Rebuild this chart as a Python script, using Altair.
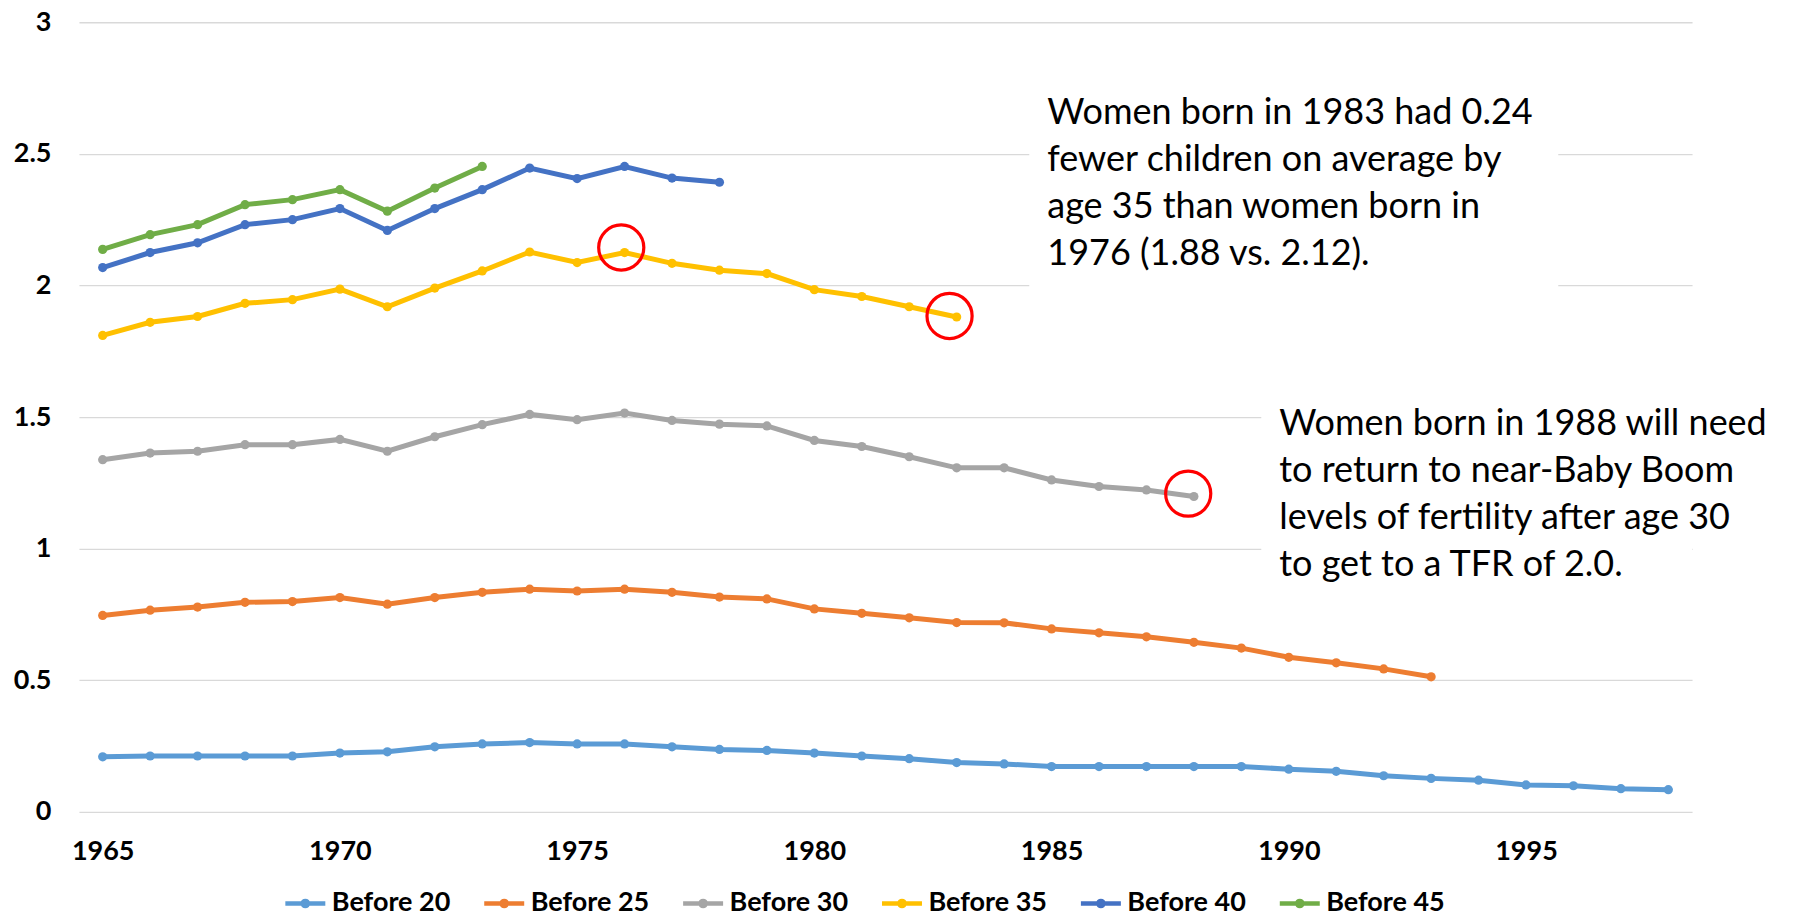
import altair as alt
import pandas as pd

# ---------------- data ----------------
years = list(range(1965, 1999))
series_names = ["Before 20", "Before 25", "Before 30", "Before 35", "Before 40", "Before 45"]
series_colors = ["#5B9BD5", "#ED7D31", "#A5A5A5", "#FFC000", "#4472C4", "#70AD47"]

before_20 = [0.209, 0.212, 0.212, 0.212, 0.212, 0.223, 0.228, 0.247, 0.258, 0.263,
             0.258, 0.258, 0.247, 0.237, 0.233, 0.223, 0.212, 0.202, 0.187, 0.182,
             0.172, 0.172, 0.172, 0.172, 0.172, 0.162, 0.154, 0.137, 0.127, 0.120,
             0.102, 0.099, 0.088, 0.084]
before_25 = [0.746, 0.766, 0.778, 0.796, 0.799, 0.814, 0.789, 0.814, 0.834, 0.846,
             0.839, 0.846, 0.834, 0.816, 0.809, 0.771, 0.754, 0.737, 0.719, 0.718,
             0.695, 0.680, 0.665, 0.644, 0.622, 0.587, 0.566, 0.543, 0.513]
before_30 = [1.338, 1.363, 1.370, 1.395, 1.395, 1.415, 1.370, 1.425, 1.471, 1.510,
             1.490, 1.515, 1.487, 1.473, 1.466, 1.411, 1.388, 1.349, 1.307, 1.307,
             1.261, 1.236, 1.223, 1.198]
before_35 = [1.810, 1.860, 1.882, 1.932, 1.946, 1.986, 1.919, 1.990, 2.055, 2.127,
             2.087, 2.125, 2.084, 2.058, 2.045, 1.984, 1.958, 1.919, 1.880]
before_40 = [2.068, 2.125, 2.162, 2.231, 2.250, 2.292, 2.209, 2.292, 2.364, 2.446,
             2.406, 2.452, 2.408, 2.392]
before_45 = [2.137, 2.193, 2.231, 2.307, 2.326, 2.364, 2.282, 2.370, 2.452]

all_series = [before_20, before_25, before_30, before_35, before_40, before_45]

x_ticks = [1965, 1970, 1975, 1980, 1985, 1990, 1995]
y_ticks = [0, 0.5, 1, 1.5, 2, 2.5, 3]

# highlighted cohorts (red circles)
circle_year = [1975.93, 1982.85, 1987.88]
circle_value = [2.144, 1.884, 1.209]

# annotation texts
note_lines = [
    ["Women born in 1983 had 0.24", "fewer children on average by",
     "age 35 than women born in", "1976 (1.88 vs. 2.12)."],
    ["Women born in 1988 will need", "to return to near-Baby Boom",
     "levels of fertility after age 30", "to get to a TFR of 2.0."],
]
note_year = [1984.91, 1989.80]
note_value = [2.612, 1.430]
# white backgrounds of the text boxes (hide gridlines)
box_x = [1984.53, 1989.42]
box_x2 = [1995.68, 1998.5]
box_y = [1.97, 0.95]
box_y2 = [2.72, 1.62]

# ---------------- tables ----------------
rows = []
for name, vals in zip(series_names, all_series):
    for yr, v in zip(years, vals):
        rows.append({"year": yr, "value": v, "series": name})
df = pd.DataFrame(rows)

circles = pd.DataFrame({"year": circle_year, "value": circle_value})
notes = pd.DataFrame({"year": note_year, "value": note_value, "text": note_lines})
boxes = pd.DataFrame({"x": box_x, "x2": box_x2, "y": box_y, "y2": box_y2})

FONT = "Lato"
W, H = 1614, 790

xscale = alt.Scale(domain=[1964.5, 1998.5], nice=False, zero=False)
yscale = alt.Scale(domain=[0, 3], nice=False)

x_axis = alt.Axis(values=x_ticks, format="d", title=None, grid=False, domain=False,
                  ticks=False, labelPadding=27, labelFont=FONT, labelFontWeight="bold",
                  labelFontSize=27, labelColor="#000000", domainOpacity=0, gridOpacity=0)
y_axis = alt.Axis(values=y_ticks, format=".1~f", title=None, grid=True, domain=False,
                  ticks=False, labelPadding=28, labelFont=FONT, labelFontWeight="bold",
                  labelFontSize=27, labelColor="#000000", gridColor="#D9D9D9",
                  gridWidth=1.3, domainOpacity=0)

legend_symbol = "M-1,0H1M0.13,0A0.13,0.13,0,1,1,-0.13,0A0.13,0.13,0,1,1,0.13,0Z"

color = alt.Color(
    "series:N",
    scale=alt.Scale(domain=series_names, range=series_colors),
    sort=series_names,
    legend=alt.Legend(
        title=None, orient="none", direction="horizontal", legendX=204, legendY=859,
        symbolType=legend_symbol, symbolSize=1600, symbolStrokeWidth=4.5,
        labelFont=FONT, labelFontWeight="bold", labelFontSize=27, labelColor="#000000",
        labelOffset=4, columnPadding=24, padding=0, labelLimit=0,
    ),
)

bg = alt.Chart(boxes).mark_rect(color="white", strokeWidth=0).encode(
    x=alt.X("x:Q", scale=xscale, axis=x_axis),
    x2="x2:Q",
    y=alt.Y("y:Q", scale=yscale, axis=y_axis),
    y2="y2:Q",
)

lines = alt.Chart(df).mark_line(strokeWidth=5).encode(
    x=alt.X("year:Q", scale=xscale, axis=x_axis),
    y=alt.Y("value:Q", scale=yscale, axis=y_axis),
    color=color,
    detail="series:N",
)

points = alt.Chart(df).mark_circle(size=85, opacity=1).encode(
    x=alt.X("year:Q", scale=xscale, axis=x_axis),
    y=alt.Y("value:Q", scale=yscale, axis=y_axis),
    color=alt.Color("series:N", scale=alt.Scale(domain=series_names, range=series_colors),
                    legend=None),
)

rings = alt.Chart(circles).mark_point(shape="circle", size=2040, filled=False,
                                      stroke="#FF0000", strokeWidth=3.2, opacity=1).encode(
    x=alt.X("year:Q", scale=xscale, axis=x_axis),
    y=alt.Y("value:Q", scale=yscale, axis=y_axis),
)

texts = alt.Chart(notes).mark_text(align="left", baseline="alphabetic", font=FONT,
                                   fontSize=36, lineHeight=47, color="#000000").encode(
    x=alt.X("year:Q", scale=xscale, axis=x_axis),
    y=alt.Y("value:Q", scale=yscale, axis=y_axis),
    text="text",
)

chart = alt.layer(bg, lines, points, rings, texts).properties(
    width=W, height=H,
    autosize=alt.AutoSizeParams(type="none"),
    padding={"left": 71, "top": 14, "right": 95, "bottom": 105},
).configure(background="white").configure_view(
    stroke="transparent", strokeWidth=0, strokeOpacity=0
).configure_axis(domain=False, ticks=False, domainOpacity=0).configure_axisX(
    grid=False, gridOpacity=0
)

chart.save("out.html", embed_options={"renderer": "svg", "actions": False})
